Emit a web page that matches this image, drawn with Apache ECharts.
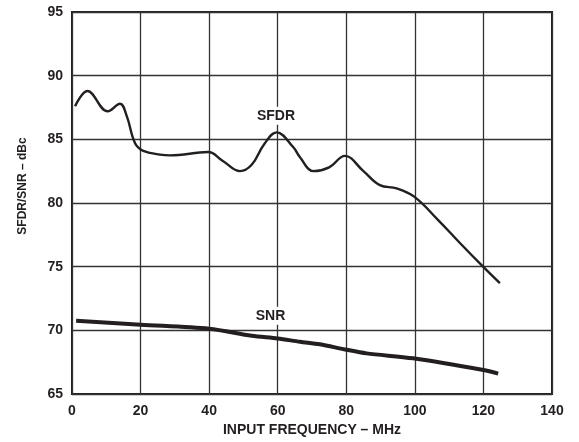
<!DOCTYPE html>
<html><head><meta charset="utf-8">
<script src="https://cdn.jsdelivr.net/npm/echarts@6/dist/echarts.min.js"></script>
<style>html,body{margin:0;padding:0;background:#fff}#c{width:579px;height:442px}</style>
</head><body><div id="c"></div>
<script>
const xTicks = [0, 20, 40, 60, 80, 100, 120, 140];
const yTicks = [65, 70, 75, 80, 85, 90, 95];
const sfdrFreq = [0.9, 4.5, 10.4, 14, 16, 18.4, 20.8, 25.7, 28.6, 39.7, 44, 49, 52.4, 56, 59.7, 64.5, 66.5, 70.4, 75, 79.6, 85, 89.8, 94.7, 99.8, 106.8, 113, 119.9, 124.8];
const sfdrVals = [87.6, 88.8, 87.2, 87.8, 86.8, 84.7, 84.1, 83.8, 83.74, 84.0, 83.3, 82.5, 83.0, 84.6, 85.55, 84.4, 83.6, 82.5, 82.8, 83.7, 82.5, 81.4, 81.15, 80.5, 78.66, 76.9, 75.0, 73.7];
const snrFreq = [1.2, 20, 40, 52.4, 60, 66.5, 72.3, 79.6, 85.9, 99.5, 120, 124.3];
const snrVals = [70.75, 70.44, 70.12, 69.57, 69.36, 69.1, 68.9, 68.5, 68.19, 67.8, 66.88, 66.6];
const labels = [{name:'SFDR', x:59.5, y:86.85}, {name:'SNR', x:57.9, y:71.15}];

const ink = '#231f20';
const chart = echarts.init(document.getElementById('c'));
const font = {fontFamily:'Liberation Sans, Arial, sans-serif', fontWeight:'bold', color:ink};
chart.setOption({
  animation:false,
  grid:{left:72, right:27, top:12, bottom:48, show:true, borderColor:ink, borderWidth:2,
    containLabel:false, outerBoundsMode:'none'},
  xAxis:{type:'value', min:xTicks[0], max:xTicks[xTicks.length-1], interval:20,
    name:'INPUT FREQUENCY – MHz', nameLocation:'middle', nameGap:29,
    nameTextStyle:Object.assign({fontSize:14}, font),
    axisLine:{show:false}, axisTick:{show:false},
    axisLabel:Object.assign({fontSize:14, margin:10}, font),
    splitLine:{lineStyle:{color:'#333', width:1.3}}},
  yAxis:{type:'value', min:yTicks[0], max:yTicks[yTicks.length-1], interval:5,
    name:'SFDR/SNR – dBc', nameLocation:'middle', nameGap:43,
    nameTextStyle:Object.assign({fontSize:12, padding:[0,0,0,34]}, font),
    axisLine:{show:false}, axisTick:{show:false},
    axisLabel:Object.assign({fontSize:14, margin:9}, font),
    splitLine:{lineStyle:{color:'#333', width:1.3}}},
  series:[
    {type:'line', name:'SFDR', data:sfdrFreq.map((f,i)=>[f,sfdrVals[i]]), smooth:0.4, showSymbol:false,
      lineStyle:{color:ink, width:2.4}, z:3},
    {type:'line', name:'SNR', data:snrFreq.map((f,i)=>[f,snrVals[i]]), smooth:0.3, showSymbol:false,
      lineStyle:{color:ink, width:4}, z:3},
    {type:'scatter', data:labels.map(l=>({value:[l.x,l.y], name:l.name})), symbolSize:0, z:4,
      itemStyle:{opacity:1, color:ink},
      label:Object.assign({show:true, position:'inside', formatter:p=>p.name, fontSize:14,
        backgroundColor:'#fff', padding:[2,3]}, font)}
  ]
});
</script></body></html>
